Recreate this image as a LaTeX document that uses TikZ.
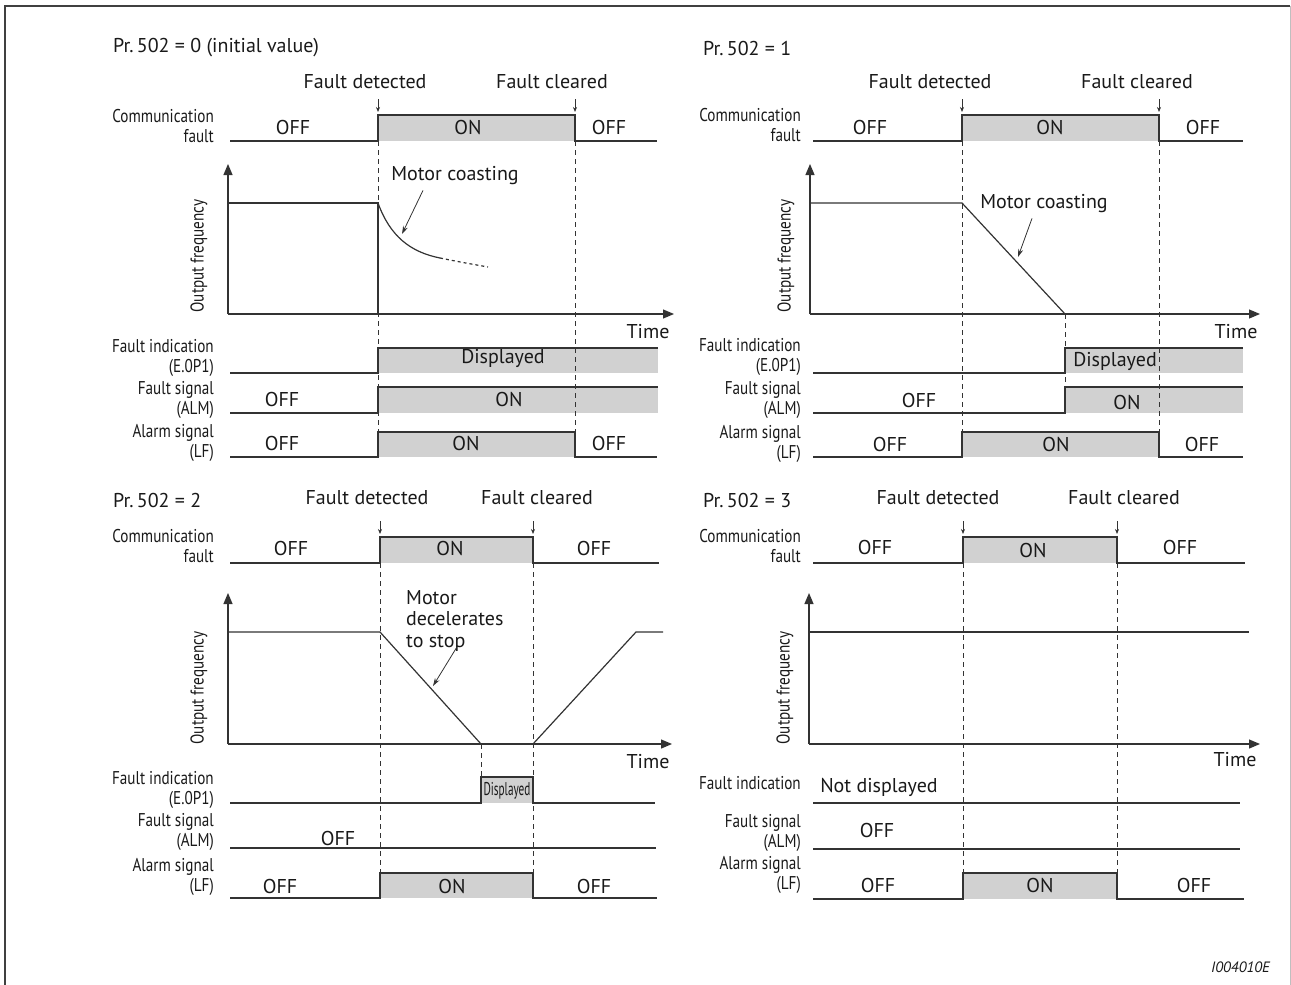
\documentclass[tikz,border=0pt]{standalone}
\usepackage{fontspec}
\setmainfont{PT Sans}
\newfontfamily\condfont[FakeStretch=0.82]{PT Sans}
\usetikzlibrary{arrows.meta}
\begin{document}
\begin{tikzpicture}[x=1pt,y=-1pt,>={Triangle[length=11pt,width=9pt]},
  every node/.style={text=black!90,inner sep=0pt},
  txt/.style={font=\fontsize{20}{22}\selectfont},
  lbl/.style={font=\condfont\fontsize{18.5}{19.5}\selectfont,align=right,anchor=east},
  sig/.style={draw=black!80,line width=1.2pt},
  onbox/.style={fill=black!18},
  guide/.style={draw=black!80,line width=0.8pt,dash pattern=on 5pt off 4pt},
  evt/.style={draw=black!80,line width=0.7pt,-{Stealth[length=5pt,width=4pt]}},
  note/.style={draw=black!80,line width=0.8pt,-{Stealth[length=8pt,width=5pt]}},
  axis/.style={draw=black!80,line width=1.2pt,->}]
\useasboundingbox (0,0) rectangle (1291,985);
\draw[black!75,line width=2pt] (5,985) -- (5,6) -- (1290,6);
\draw[black!25,line width=0.8pt] (1290,6) -- (1290,985);

%% Pr. 502 = 0
\node[txt,anchor=west] (pr0) at (113,48) {Pr.\,502 = 0 (initial value)};
\node[txt] (det0) at (365,82) {Fault detected};
\node[txt] (clr0) at (552,82) {Fault cleared};
\coordinate (d0) at (378,115);
\coordinate (c0) at (575,115);
\draw[evt] (d0) ++(0,-16) -- ++(0,13);
\draw[evt] (c0) ++(0,-16) -- ++(0,13);
\fill[onbox] (d0) rectangle (575,141);
\fill[onbox] (378,348) rectangle (658,373);
\fill[onbox] (378,387) rectangle (658,413);
\fill[onbox] (378,432) rectangle (575,457);
\draw[guide] (378,141) -- (378,432);
\draw[guide] (575,141) -- (575,432);
\node[lbl] (cf0) at (214,126) {Communication\\fault};
\draw[sig] (230,141) -- (378,141) -- (d0) -- (c0) -- (575,141) -- (657,141);
\node[txt] (cf0a) at (293,127) {OFF};
\node[txt] (cf0b) at (468,127) {ON};
\node[txt] (cf0c) at (609,127) {OFF};
\coordinate (o0) at (228,314);
\node[lbl,anchor=center,rotate=90] (of0) at (199,256) {Output frequency};
\draw[axis] (o0) -- (228,164);
\draw[axis] (o0) -- (674,314);
\node[txt] (tm0) at (648,332) {Time};
\draw[sig] (228,203) -- (378,203) -- (378,314);
\draw[sig] (378,203) .. controls (390,236) and (410,252) .. (440,258);
\draw[sig,dashed] (440,258) .. controls (460,262) .. (488,267);
\node[txt] (mc0) at (455,176) {Motor coasting};
\coordinate (mc0p) at (402,234);
\draw[note] ([xshift=-32pt,yshift=-5pt]mc0.south) -- (mc0p);
\node[lbl] (fi0) at (214,358) {Fault indication\\(E.0P1)};
\draw[sig] (230,373) -- (378,373) -- (378,348) -- (658,348);
\node[txt] (fi0a) at (503,358) {Displayed};
\node[lbl] (fs0) at (214,400) {Fault signal\\(ALM)};
\draw[sig] (230,413) -- (378,413) -- (378,387) -- (658,387);
\node[txt] (fs0a) at (282,399) {OFF};
\node[txt] (fs0b) at (509,399) {ON};
\node[lbl] (as0) at (214,443) {Alarm signal\\(LF)};
\draw[sig] (230,457) -- (378,457) -- (378,432) -- (575,432) -- (575,457) -- (657,457);
\node[txt] (as0a) at (282,443) {OFF};
\node[txt] (as0b) at (466,443) {ON};
\node[txt] (as0c) at (609,443) {OFF};

%% Pr. 502 = 1
\node[txt,anchor=west] (pr1) at (703,48) {Pr.\,502 = 1};
\node[txt] (det1) at (930,82) {Fault detected};
\node[txt] (clr1) at (1137,82) {Fault cleared};
\coordinate (d1) at (962,115);
\coordinate (c1) at (1159,115);
\draw[evt] (d1) ++(0,-16) -- ++(0,13);
\draw[evt] (c1) ++(0,-16) -- ++(0,13);
\fill[onbox] (d1) rectangle (1159,141);
\fill[onbox] (1065,348) rectangle (1243,373);
\fill[onbox] (1065,387) rectangle (1243,413);
\fill[onbox] (962,432) rectangle (1159,457);
\draw[guide] (962,141) -- (962,432);
\draw[guide] (1159,141) -- (1159,432);
\draw[guide] (1065,314) -- (1065,387);
\node[lbl] (cf1) at (801,125) {Communication\\fault};
\draw[sig] (813,141) -- (962,141) -- (d1) -- (c1) -- (1159,141) -- (1243,141);
\node[txt] (cf1a) at (870,127) {OFF};
\node[txt] (cf1b) at (1050,127) {ON};
\node[txt] (cf1c) at (1203,127) {OFF};
\coordinate (o1) at (810,314);
\node[lbl,anchor=center,rotate=90] (of1) at (786,256) {Output frequency};
\draw[axis] (o1) -- (810,164);
\draw[axis] (o1) -- (1260,314);
\node[txt] (tm1) at (1236,332) {Time};
\draw[sig] (810,203) -- (962,203) -- (1065,314);
\node[txt] (mc1) at (1044,204) {Motor coasting};
\coordinate (mc1p) at (1018,257);
\draw[note] ([xshift=-12pt,yshift=-5pt]mc1.south) -- (mc1p);
\node[lbl] (fi1) at (801,357) {Fault indication\\(E.0P1)};
\draw[sig] (813,373) -- (1065,373) -- (1065,348) -- (1243,348);
\node[txt] (fi1a) at (1115,361) {Displayed};
\node[lbl] (fs1) at (801,400) {Fault signal\\(ALM)};
\draw[sig] (813,413) -- (1065,413) -- (1065,387) -- (1243,387);
\node[txt] (fs1a) at (919,400) {OFF};
\node[txt] (fs1b) at (1127,402) {ON};
\node[lbl] (as1) at (801,444) {Alarm signal\\(LF)};
\draw[sig] (813,457) -- (962,457) -- (962,432) -- (1159,432) -- (1159,457) -- (1243,457);
\node[txt] (as1a) at (890,444) {OFF};
\node[txt] (as1b) at (1056,444) {ON};
\node[txt] (as1c) at (1202,444) {OFF};

%% Pr. 502 = 2
\node[txt,anchor=west] (pr2) at (113,500) {Pr.\,502 = 2};
\node[txt] (det2) at (367,498) {Fault detected};
\node[txt] (clr2) at (537,498) {Fault cleared};
\coordinate (d2) at (380,537);
\coordinate (c2) at (533,537);
\draw[evt] (d2) ++(0,-16) -- ++(0,13);
\draw[evt] (c2) ++(0,-16) -- ++(0,13);
\fill[onbox] (d2) rectangle (533,563);
\fill[onbox] (481,777) rectangle (533,803);
\fill[onbox] (380,873) rectangle (533,898);
\draw[guide] (380,563) -- (380,873);
\draw[guide] (533,563) -- (533,873);
\draw[guide] (481,744) -- (481,777);
\node[lbl] (cf2) at (214,546) {Communication\\fault};
\draw[sig] (230,563) -- (380,563) -- (d2) -- (c2) -- (533,563) -- (659,563);
\node[txt] (cf2a) at (291,548) {OFF};
\node[txt] (cf2b) at (450,548) {ON};
\node[txt] (cf2c) at (594,548) {OFF};
\coordinate (o2) at (228,744);
\node[lbl,anchor=center,rotate=90] (of2) at (199,688) {Output frequency};
\draw[axis] (o2) -- (228,593);
\draw[axis] (o2) -- (672,744);
\node[txt] (tm2) at (648,762) {Time};
\draw[sig] (228,632) -- (380,632) -- (481,744) -- (533,744) -- (636,632) -- (663,632);
\node[txt,align=left,anchor=north west,font=\fontsize{20}{21.5}\selectfont] (mc2) at (406,590) {Motor\\decelerates\\to stop};
\coordinate (mc2p) at (433,686);
\draw[note] ([xshift=-47pt,yshift=4pt]mc2.south east) -- (mc2p);
\node[lbl] (fi2) at (214,790) {Fault indication\\(E.0P1)};
\draw[sig] (230,803) -- (481,803) -- (481,777) -- (533,777) -- (533,803) -- (655,803);
\node[lbl,anchor=center] (fi2a) at (507,791) {\scalebox{0.74}[1]{Displayed}};
\node[lbl] (fs2) at (214,832) {Fault signal\\(ALM)};
\draw[sig] (230,848) -- (656,848);
\node[txt] (fs2a) at (338,838) {OFF};
\node[lbl] (as2) at (214,877) {Alarm signal\\(LF)};
\draw[sig] (230,898) -- (380,898) -- (380,873) -- (533,873) -- (533,898) -- (657,898);
\node[txt] (as2a) at (280,886) {OFF};
\node[txt] (as2b) at (452,886) {ON};
\node[txt] (as2c) at (594,886) {OFF};

%% Pr. 502 = 3
\node[txt,anchor=west] (pr3) at (703,500) {Pr.\,502 = 3};
\node[txt] (det3) at (938,498) {Fault detected};
\node[txt] (clr3) at (1124,498) {Fault cleared};
\coordinate (d3) at (963,537);
\coordinate (c3) at (1117,537);
\draw[evt] (d3) ++(0,-16) -- ++(0,13);
\draw[evt] (c3) ++(0,-16) -- ++(0,13);
\fill[onbox] (d3) rectangle (1117,563);
\fill[onbox] (963,873) rectangle (1117,899);
\draw[guide] (963,563) -- (963,873);
\draw[guide] (1117,563) -- (1117,873);
\node[lbl] (cf3) at (801,546) {Communication\\fault};
\draw[sig] (813,563) -- (963,563) -- (d3) -- (c3) -- (1117,563) -- (1245,563);
\node[txt] (cf3a) at (875,547) {OFF};
\node[txt] (cf3b) at (1033,550) {ON};
\node[txt] (cf3c) at (1180,547) {OFF};
\coordinate (o3) at (809,744);
\node[lbl,anchor=center,rotate=90] (of3) at (785,688) {Output frequency};
\draw[axis] (o3) -- (809,593);
\draw[axis] (o3) -- (1260,744);
\node[txt] (tm3) at (1235,760) {Time};
\draw[sig] (809,632) -- (1249,632);
\node[lbl] (fi3) at (801,783) {Fault indication};
\draw[sig] (813,803) -- (1240,803);
\node[txt] (fi3a) at (879,787) {Not displayed};
\node[lbl] (fs3) at (801,833) {Fault signal\\(ALM)};
\draw[sig] (813,849) -- (1240,849);
\node[txt] (fs3a) at (877,830) {OFF};
\node[lbl] (as3) at (801,875) {Alarm signal\\(LF)};
\draw[sig] (813,899) -- (963,899) -- (963,873) -- (1117,873) -- (1117,899) -- (1244,899);
\node[txt] (as3a) at (878,885) {OFF};
\node[txt] (as3b) at (1040,885) {ON};
\node[txt] (as3c) at (1194,885) {OFF};

\node[font=\itshape\fontsize{15}{17}\selectfont,anchor=east] (fig) at (1270,967) {I004010E};
\end{tikzpicture}
\end{document}
